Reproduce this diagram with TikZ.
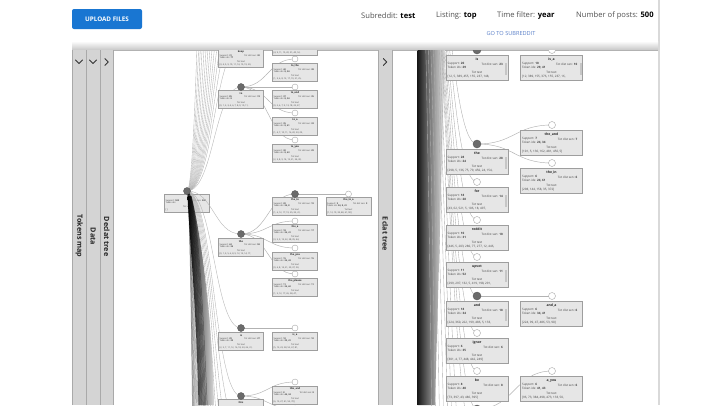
\documentclass[tikz,border=0pt]{standalone}
\usepackage{fontspec}
\setmainfont{Open Sans}
\usetikzlibrary{calc}
\definecolor{btnblue}{HTML}{1976D2}
\definecolor{linkblue}{HTML}{5B80C9}
\definecolor{tabgray}{HTML}{D4D4D4}
\definecolor{tabline}{HTML}{A9A9A9}
\definecolor{boxfill}{HTML}{E6E6E6}
\definecolor{boxline}{HTML}{9E9E9E}
\definecolor{nodefill}{HTML}{6B6B6B}
\tikzset{
  edgest/.style={draw=gray!60, line width=0.45pt},
  rbund/.style={draw=gray!65, line width=0.35pt},
  lup/.style={draw=gray!60, line width=0.35pt},
  ldown/.style={draw=black, draw opacity=0.4, line width=0.5pt},
  fullcirc/.style={circle, fill=nodefill, draw=black!65, line width=0.4pt, minimum size=8pt, inner sep=0pt},
  opencirc/.style={circle, fill=white, draw=gray!70, line width=0.4pt, minimum size=7pt, inner sep=0pt},
  lfullcirc/.style={fullcirc, minimum size=7pt},
  lopencirc/.style={opencirc, minimum size=6pt},
  rboxst/.style={rectangle, fill=boxfill, draw=boxline, line width=0.4pt, minimum width=62pt, minimum height=25pt, inner sep=0pt, anchor=north},
  lboxst/.style={rectangle, fill=boxfill, draw=boxline, line width=0.35pt, minimum width=45pt, minimum height=18pt, inner sep=0pt, anchor=north},
  tinyr/.style={inner sep=0pt, font=\fontsize{3}{3.5}\selectfont, text=black!75},
  tinyl/.style={inner sep=0pt, font=\fontsize{2.2}{2.6}\selectfont, text=black!75},
  hdr/.style={inner sep=0pt, anchor=west, font=\fontsize{7.6}{9}\selectfont, text=black!68},
  tabtxt/.style={inner sep=0pt, rotate=-90, font=\bfseries\fontsize{7.2}{8}\selectfont, text=black!85},
  chev/.style={draw=black!80, line width=0.8pt, line cap=round, line join=round},
  sbar/.style={fill=gray!45},
}
\newcommand\hlink[3][]{\draw[edgest,#1] let \p1=(#2), \p2=(#3), \n1={0.5*\x1+0.5*\x2} in (\p1) .. controls (\n1,\y1) and (\n1,\y2) .. (\p2);}
\newcommand\RBox[8]{%
  \node[rboxst] (#1) at (#2,#3) {};
  \node[tinyr, font=\bfseries\fontsize{3.4}{4}\selectfont, text=black!85] (#1-t) at (#2,#3+4.5) {#4};
  \node[tinyr, anchor=west] (#1-s) at (#2-29.5,#3+9) {Support: \textbf{#5}};
  \node[tinyr, anchor=east] (#1-d) at (#2+26,#3+9) {Tot dist sen: \textbf{#6}};
  \node[tinyr, anchor=west] (#1-i) at (#2-29.5,#3+12.5) {Token ids: \textbf{#7}};
  \node[tinyr] (#1-x) at (#2,#3+17) {Tot text};
  \node[tinyr, anchor=west] (#1-l) at (#2-29.5,#3+21.2) {#8};
}
\newcommand\SBar[2]{\fill[sbar] (#1+28,#2+8) rectangle (#1+30,#2+20);}
\newcommand\LBox[8]{%
  \node[lboxst] (#1) at (#2,#3) {};
  \node[tinyl, font=\bfseries\fontsize{2.5}{3}\selectfont, text=black!85] (#1-t) at (#2,#3+3.2) {#4};
  \node[tinyl, anchor=west] (#1-s) at (#2-21.5,#3+6.5) {Support: \textbf{#5}};
  \node[tinyl, anchor=east] (#1-d) at (#2+19,#3+6.5) {Tot dist sen: \textbf{#6}};
  \node[tinyl, anchor=west] (#1-i) at (#2-21.5,#3+9) {Token ids: \textbf{#7}};
  \node[tinyl] (#1-x) at (#2,#3+12.3) {Tot text};
  \node[tinyl, anchor=west] (#1-l) at (#2-21.5,#3+15.4) {#8};
}
\begin{document}
\begin{tikzpicture}[x=1pt,y=-1pt]
\useasboundingbox (0,0) rectangle (720,405);
\fill[white] (0,0) rectangle (720,405);

% ---------- header ----------
\node[fill=btnblue, text=white, rounded corners=2pt, minimum width=70pt, minimum height=20pt, inner sep=0pt,
      font=\bfseries\fontsize{6.3}{7}\selectfont] (upload) at (107,19) {UPLOAD FILES};
\node[hdr] (h-sub) at (361,16) {Subreddit: \textbf{\color{black}test}};
\node[hdr] (h-lst) at (436,16) {Listing: \textbf{\color{black}top}};
\node[hdr] (h-tim) at (497,16) {Time filter: \textbf{\color{black}year}};
\node[hdr] (h-num) at (576,16) {Number of posts: \textbf{\color{black}500}};
\node[inner sep=0pt, font=\fontsize{5.6}{7}\selectfont, text=linkblue] (h-go) at (511,33) {GO TO SUBREDDIT};

% right edge line
\fill[gray!30] (658,0) rectangle (659.6,405);

% panel top shadow
\shade[top color=white, bottom color=black!22] (72,41) rectangle (658,50);
\draw[black!30, line width=0.5pt] (72,50) -- (658,50);

% ---------- left tree ----------
\begin{scope}
\clip (113.5,50.5) rectangle (377.5,405);
\coordinate (l-root) at (187,191);
\coordinate (l-A) at (241,46);   \coordinate (l-A2) at (295,33);
\coordinate (l-B) at (241,87);
\coordinate (l-B1) at (295,59);  \coordinate (l-B2) at (295,87);
\coordinate (l-B3) at (295,113); \coordinate (l-B4) at (295,140);
\coordinate (l-C) at (241,234);
\coordinate (l-F) at (295,194);  \coordinate (l-F1) at (348.5,194);
\coordinate (l-C2) at (295,221); \coordinate (l-C3) at (295,248); \coordinate (l-C4) at (295,274);
\coordinate (l-D) at (241,328);  \coordinate (l-D1) at (295,328);
\coordinate (l-E) at (241,396);  \coordinate (l-E1) at (295,382); \coordinate (l-E2) at (295,409);

\LBox{lb-root}{187}{194}{}{500}{500}{}{[ ]}

\foreach \Y [count=\i] in {18,-12,-45,-85,-140,-210,-300,-420,-600,-850,-1200,-1700,-2500} {
  \coordinate (lu\i) at (241,\Y);
  \hlink[lup]{l-root}{lu\i}
}
\hlink[lup]{l-root}{l-A}
\hlink[lup]{l-root}{l-B}
\foreach \Y [count=\i] in {430,470,520,580,660,760,880} {
  \coordinate (lm\i) at (241,\Y);
  \hlink[lup]{l-root}{lm\i}
}
\shade[left color=black!92, right color=black!15]
  (187.5,196) .. controls (191,260) and (196,300) .. (198.5,405) -- (214,405) .. controls (212,320) and (202,240) .. (191.5,196) -- cycle;
\foreach \Y [count=\i] in {1000,1150,1300,1500,1750,2000,2400,2900,3500,4300,5300,6600,8200,10000,12500,15000} {
  \coordinate (ld\i) at (241,\Y);
  \hlink[ldown]{l-root}{ld\i}
}
\hlink[lup]{l-root}{l-C}
\hlink[lup]{l-root}{l-D}
\hlink[lup]{l-root}{l-E}

\hlink{l-A}{l-A2}
\hlink{l-B}{l-B1} \hlink{l-B}{l-B2} \hlink{l-B}{l-B3} \hlink{l-B}{l-B4}
\hlink{l-C}{l-F} \hlink{l-C}{l-C2} \hlink{l-C}{l-C3} \hlink{l-C}{l-C4}
\hlink{l-F}{l-F1}
\hlink{l-D}{l-D1}
\hlink{l-E}{l-E1} \hlink{l-E}{l-E2}

\LBox{lb-A}{241}{49}{keep}{31}{30}{77}{[3, 4, 5, 9, 10, 11, 14, 15, 19, 20,}
\LBox{lb-A2}{295}{37}{keep\_to}{12}{12}{77, 8}{[4, 9, 11, 15, 20, 31, 40, 52,}
\LBox{lb-B}{241}{90}{to}{85}{74}{8}{[0, 1, 2, 3, 4, 6, 7, 8, 9, 10, 11,}
\LBox{lb-B1}{295}{63}{to\_the}{40}{38}{8, 24}{[1, 3, 6, 8, 12, 17, 19, 21, 25,}
\LBox{lb-B2}{295}{90}{to\_and}{37}{35}{8, 34}{[0, 2, 6, 7, 9, 13, 18, 22, 27,}
\LBox{lb-B3}{295}{117}{to\_a}{35}{33}{8, 41}{[1, 4, 7, 10, 11, 16, 20, 23, 29,}
\LBox{lb-B4}{295}{144}{to\_you}{30}{29}{8, 43}{[2, 3, 8, 9, 14, 15, 21, 24, 30,}
\LBox{lb-C}{241}{238}{the}{62}{58}{24}{[0, 1, 3, 5, 6, 8, 9, 12, 13, 14, 17,}
\LBox{lb-F}{295}{197}{the\_to}{20}{19}{24, 8}{[1, 6, 12, 17, 19, 25, 33, 41,}
\LBox{lb-F1}{348.5}{197}{the\_to\_a}{9}{9}{24, 8, 41}{[1, 12, 19, 33, 48, 61, 90]}
\LBox{lb-C2}{295}{224}{the\_a}{18}{17}{24, 41}{[3, 5, 9, 13, 22, 28, 35, 44,}
\LBox{lb-C3}{295}{252}{the\_you}{15}{15}{24, 43}{[0, 6, 8, 14, 21, 29, 37, 50,}
\LBox{lb-C4}{295}{278}{the\_please}{11}{11}{24, 60}{[1, 5, 12, 17, 26, 38, 47,}
\LBox{lb-D}{241}{332}{is}{29}{27}{29}{[2, 5, 7, 11, 12, 16, 18, 23, 26, 31,}
\LBox{lb-D1}{295}{332}{is\_a}{10}{10}{29, 41}{[5, 12, 23, 38, 52, 67, 81,}
\node[lboxst] (lb-E) at (241,399) {};
\node[tinyl, font=\bfseries\fontsize{2.5}{3}\selectfont, text=black!85] (lb-E-t) at (241,402.2) {this};
\LBox{lb-E1}{295}{386}{this\_and}{8}{8}{44, 34}{[6, 13, 27, 41, 55, 70]}

\node[lfullcirc] (n-root) at (l-root) {};
\node[lfullcirc] (n-A) at (l-A) {};
\node[lopencirc] (n-A2) at (l-A2) {};
\node[lfullcirc] (n-B) at (l-B) {};
\node[lopencirc] (n-B1) at (l-B1) {};
\node[lopencirc] (n-B2) at (l-B2) {};
\node[lopencirc] (n-B3) at (l-B3) {};
\node[lopencirc] (n-B4) at (l-B4) {};
\node[lfullcirc] (n-C) at (l-C) {};
\node[lfullcirc] (n-F) at (l-F) {};
\node[lopencirc] (n-F1) at (l-F1) {};
\node[lopencirc] (n-C2) at (l-C2) {};
\node[lopencirc] (n-C3) at (l-C3) {};
\node[lopencirc] (n-C4) at (l-C4) {};
\node[lfullcirc] (n-D) at (l-D) {};
\node[lopencirc] (n-D1) at (l-D1) {};
\node[lfullcirc] (n-E) at (l-E) {};
\node[lopencirc] (n-E1) at (l-E1) {};
\node[lopencirc] (n-E2) at (l-E2) {};
\end{scope}

% ---------- right tree ----------
\begin{scope}
\clip (392.5,50.5) rectangle (657.5,405);
\coordinate (r-root) at (416,-150);
\coordinate (r-is) at (477,50);    \coordinate (r-isa) at (552,50);
\coordinate (r-the) at (477,144);  \coordinate (r-thea) at (552,125); \coordinate (r-thein) at (552,163);
\coordinate (r-for) at (477,182);
\coordinate (r-red) at (477,220);
\coordinate (r-upv) at (477,257);
\coordinate (r-and) at (477,296);  \coordinate (r-anda) at (552,296);
\coordinate (r-ign) at (477,333);
\coordinate (r-be) at (477,371);
\coordinate (r-nx) at (477,409);   \coordinate (r-ayou) at (552,371);

\shade[left color=black!90, right color=black!8] (417.5,50) -- (445,50) -- (435,405) -- (417.5,405) -- cycle;
\foreach \Y [count=\i] in {447,560,700,900,1250,1850,2900,4800} {
  \coordinate (rx\i) at (477,\Y);
  \hlink[rbund]{r-root}{rx\i}
}
\foreach \nd in {r-is,r-the,r-for,r-red,r-upv,r-and,r-ign,r-be,r-nx} {\hlink[rbund]{r-root}{\nd}}

\hlink{r-is}{r-isa}
\hlink{r-the}{r-thea}
\hlink{r-the}{r-thein}
\hlink{r-and}{r-anda}
\hlink{r-nx}{r-ayou}

\RBox{rb-is}{477}{55}{is}{20}{23}{29}{[12, 5, 389, 455, 155, 237, 148,}
\SBar{477}{55}
\RBox{rb-isa}{551.5}{55}{is\_a}{10}{10}{29, 41}{[12, 389, 155, 376, 155, 237, 16,}
\SBar{551.5}{55}
\RBox{rb-the}{477}{149}{the}{28}{28}{24}{[298, 5, 136, 75, 79, 450, 24, 154,}
\SBar{477}{149}
\RBox{rb-thea}{551.5}{130}{the\_and}{7}{7}{24, 34}{[101, 5, 136, 162, 481, 456, 5]}
\RBox{rb-thein}{551.5}{168}{the\_in}{6}{6}{24, 61}{[298, 144, 158, 35, 372]}
\RBox{rb-for}{477}{187}{for}{18}{14}{28}{[43, 62, 521, 5, 106, 18, 497,}
\SBar{477}{187}
\RBox{rb-red}{477}{225}{reddit}{10}{10}{31}{[446, 5, 203, 280, 77, 277, 12, 446,}
\RBox{rb-upv}{477}{262}{upvot}{11}{11}{52}{[299, 297, 132, 5, 419, 198, 291,}
\SBar{477}{262}
\RBox{rb-and}{477}{301}{and}{18}{18}{34}{[224, 360, 222, 199, 486, 5, 133,}
\SBar{477}{301}
\RBox{rb-anda}{551.5}{301}{and\_a}{6}{6}{34, 41}{[224, 99, 47, 486, 53, 90]}
\RBox{rb-ign}{477}{338}{ignor}{6}{6}{35}{[301, 4, 77, 448, 442, 249]}
\RBox{rb-be}{477}{376}{be}{8}{8}{40}{[73, 397, 43, 486, 395]}
\RBox{rb-ayou}{551.5}{376}{a\_you}{6}{6}{41, 43}{[96, 73, 384, 498, 473, 133, 50,}

\node[fullcirc] (m-is) at (r-is) {};
\node[opencirc] (m-isa) at (r-isa) {};
\node[fullcirc] (m-the) at (r-the) {};
\node[opencirc] (m-thea) at (r-thea) {};
\node[opencirc] (m-thein) at (r-thein) {};
\node[opencirc] (m-for) at (r-for) {};
\node[opencirc] (m-red) at (r-red) {};
\node[opencirc] (m-upv) at (r-upv) {};
\node[fullcirc] (m-and) at (r-and) {};
\node[opencirc] (m-anda) at (r-anda) {};
\node[opencirc] (m-ign) at (r-ign) {};
\node[opencirc] (m-be) at (r-be) {};
\node[fullcirc] (m-nx) at (r-nx) {};
\node[opencirc] (m-ayou) at (r-ayou) {};
\end{scope}

% ---------- side tabs ----------
\fill[tabgray] (72,50.4) rectangle (113,405);
\draw[tabline, line width=0.6pt] (72.3,50) -- (72.3,405) (86,50) -- (86,405) (100,50) -- (100,405) (113,50) -- (113,405);
\fill[tabgray] (378,50.4) rectangle (392,405);
\draw[tabline, line width=0.6pt] (378,50) -- (378,405) (392,50) -- (392,405);
\draw[chev] (75.5,60) -- (79,63.5) -- (82.5,60);
\draw[chev] (89.5,60) -- (93,63.5) -- (96.5,60);
\draw[chev] (104.8,58.5) -- (108.3,62) -- (104.8,65.5);
\draw[chev] (383.3,58.5) -- (386.8,62) -- (383.3,65.5);
\node[tabtxt] (tab-tok) at (79.2,236) {Tokens map};
\node[tabtxt] (tab-dat) at (93.2,236.5) {Data};
\node[tabtxt] (tab-dec) at (106.8,236.5) {Declat tree};
\node[tabtxt] (tab-ecl) at (385.2,234) {Eclat tree};
\end{tikzpicture}
\end{document}
